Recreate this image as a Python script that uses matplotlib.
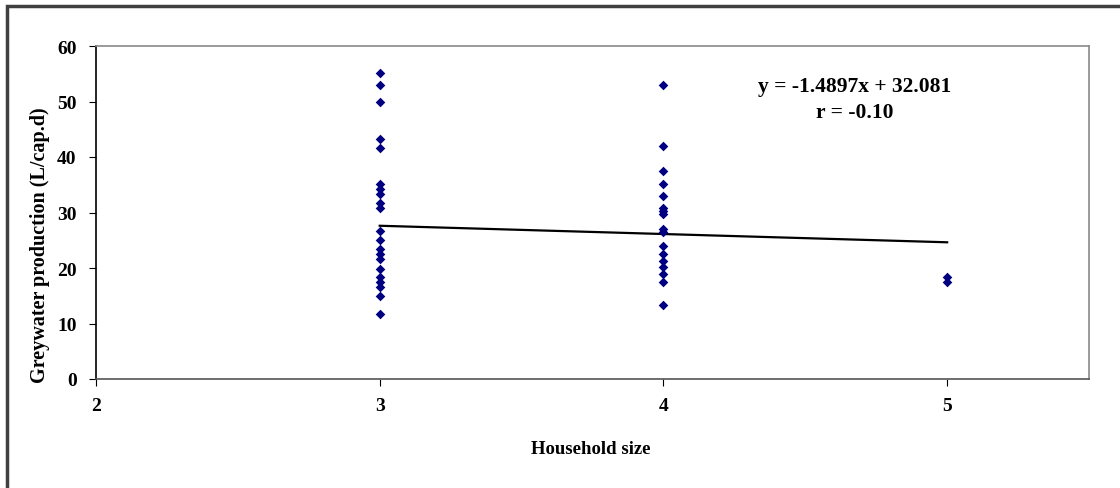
import matplotlib
matplotlib.use("Agg")
import matplotlib.pyplot as plt
import numpy as np
from matplotlib.patches import Rectangle

# Greywater production per household size
size3 = [55.1, 53.0, 49.9, 43.2, 41.7, 35.1, 34.2, 33.3, 31.8, 30.9,
         26.7, 25.0, 23.4, 22.5, 21.6, 19.9, 18.3, 17.4, 16.5, 15.0, 11.7]
size4 = [53.0, 41.9, 37.4, 35.1, 33.0, 30.9, 30.3, 29.7, 27.0, 26.5,
         24.0, 22.6, 21.3, 20.1, 18.9, 17.5, 13.3]
size5 = [18.3, 17.4]

slope = -1.4897
intercept = 32.081
r_value = -0.10

x_ticks = [2, 3, 4, 5]
y_ticks = [0, 10, 20, 30, 40, 50, 60]

xs = [3] * len(size3) + [4] * len(size4) + [5] * len(size5)
ys = size3 + size4 + size5

plt.rcParams['font.family'] = ['Liberation Serif', 'DejaVu Serif']
plt.rcParams['font.weight'] = 'bold'

W, H = 1120, 489
fig = plt.figure(figsize=(W / 100, H / 100), dpi=100)
ax = fig.add_axes([96 / W, 1 - 380 / H, (1089 - 96) / W, (380 - 47) / H])

ax.scatter(xs, ys, marker='D', s=24, color='#000080', zorder=3, linewidths=0)

line_x = np.array([min(xs), max(xs)])
ax.plot(line_x, slope * line_x + intercept, color='black', lw=1.6, zorder=2)

ax.set_xlim(2, 5.5)
ax.set_ylim(0, 60)
ax.set_xticks(x_ticks)
ax.set_yticks(y_ticks)
ax.tick_params(axis='x', direction='out', length=5, pad=8, labelsize=14)
ax.tick_params(axis='y', direction='out', length=5, pad=9, labelsize=14)
for lab in ax.get_xticklabels() + ax.get_yticklabels():
    lab.set_fontweight('bold')

ax.spines['left'].set_color('black')
ax.spines['bottom'].set_color('#555555')
ax.spines['top'].set_color('#8a8a8a')
ax.spines['right'].set_color('#8a8a8a')
for s in ax.spines.values():
    s.set_linewidth(1.2)

ax.set_xlabel('Household size', fontsize=13.5, fontweight='bold')
ax.xaxis.set_label_coords((591 - 96) / 993, (380 - 450) / 333)
ax.set_ylabel('Greywater production (L/cap.d)', fontsize=14.5, fontweight='bold')
ax.yaxis.set_label_coords((40 - 96) / 993, (380 - 245) / 333)
ax.yaxis.label.set_verticalalignment('center')
ax.xaxis.label.set_verticalalignment('center')

ax.text(855 / W, 1 - 87 / H, f'y = {slope}x + {intercept}', transform=fig.transFigure,
        ha='center', va='center', fontsize=15.5, fontweight='bold')
ax.text(855 / W, 1 - 113 / H, f'r = {r_value:.2f}', transform=fig.transFigure,
        ha='center', va='center', fontsize=15.5, fontweight='bold')

# outer chart frame
fig.patches.append(Rectangle((7 / W, -0.1), 1.2, 1 - 7 / H + 0.1,
                             transform=fig.transFigure, fill=False,
                             edgecolor='#404040', lw=2.5))

fig.savefig('out.png', dpi=100)
